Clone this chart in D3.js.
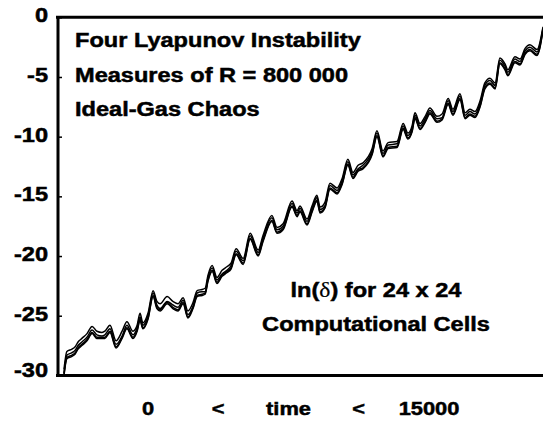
<!DOCTYPE html>
<html>
<head>
<meta charset="utf-8">
<script src="https://cdn.jsdelivr.net/npm/d3@7"></script>
<style>
    body { margin: 0; background: #fff; }
    text { font-family: "Liberation Sans", Arial, sans-serif; font-weight: bold; fill: #000;
           stroke: #000; stroke-width: 0.5px; }
</style>
</head>
<body>
<script>
// time steps shared by the four runs
var times = [0, 90, 250, 350, 440, 560, 720, 880, 1030, 1190,
    1280, 1440, 1630, 1820, 1970, 2160, 2290, 2380, 2470, 2630,
    2790, 2910, 3010, 3230, 3410, 3570, 3730, 3880, 4040, 4170,
    4320, 4420, 4510, 4640, 4790, 4950, 5100, 5230, 5390, 5610,
    5830, 6080, 6230, 6510, 6670, 6860, 7140, 7300, 7390, 7610,
    7770, 7920, 8020, 8170, 8330, 8550, 8710, 8890, 9050, 9210,
    9360, 9650, 9800, 9990, 10150, 10430, 10620, 10770, 10900, 10990,
    11150, 11310, 11460, 11680, 11840, 12030, 12180, 12400, 12560, 12710,
    12870, 13030, 13180, 13340, 13500, 13650, 13810, 13900, 14120, 14280,
    14440, 14590, 14810, 15000];

// ln(delta) for each of the four measures
var seriesA = [-29.5, -28.0, -27.8, -27.6, -27.2, -26.9, -26.5, -25.9, -26.3, -26.4,
    -26.3, -25.8, -27.1, -26.3, -25.5, -26.3, -25.8, -24.8, -25.6, -24.8,
    -22.9, -23.8, -24.0, -23.4, -23.8, -24.0, -23.5, -24.6, -23.9, -22.9,
    -22.8, -22.7, -21.6, -20.8, -21.8, -21.2, -20.9, -20.6, -19.4, -20.2,
    -18.1, -19.5, -18.3, -16.6, -17.6, -17.3, -15.4, -16.2, -15.8, -16.9,
    -15.8, -14.9, -15.9, -15.5, -13.9, -14.3, -13.5, -11.9, -13.0, -12.4,
    -12.2, -11.0, -9.5, -11.2, -10.5, -10.4, -8.9, -9.7, -9.1, -8.0,
    -8.9, -8.3, -7.6, -8.3, -8.1, -6.8, -7.7, -6.4, -8.0, -7.7,
    -7.9, -7.0, -5.5, -5.1, -5.5, -3.4, -3.9, -4.4, -3.3, -3.5,
    -2.6, -2.3, -2.7, -0.8];
var seriesB = [-29.8, -28.3, -28.1, -27.9, -27.5, -27.2, -26.8, -26.2, -26.6, -26.7,
    -26.6, -26.1, -27.4, -26.7, -25.8, -26.6, -26.0, -25.1, -25.8, -25.0,
    -23.1, -24.1, -24.4, -23.8, -24.1, -24.3, -23.7, -24.9, -24.2, -23.1,
    -23.0, -23.0, -21.8, -21.0, -22.0, -21.5, -21.2, -20.8, -19.6, -20.4,
    -18.3, -19.7, -18.5, -16.8, -17.8, -17.5, -15.6, -16.4, -16.0, -17.1,
    -16.0, -15.1, -16.1, -15.8, -14.1, -14.5, -13.7, -12.1, -13.2, -12.7,
    -12.4, -11.2, -9.7, -11.4, -10.7, -10.6, -9.1, -9.9, -9.3, -8.2,
    -9.1, -8.5, -7.8, -8.5, -8.4, -7.0, -7.9, -6.6, -8.2, -7.9,
    -8.1, -7.2, -5.7, -5.3, -5.7, -3.6, -4.1, -4.6, -3.5, -3.7,
    -2.8, -2.5, -2.9, -0.9];
var seriesC = [-29.9, -28.5, -28.3, -28.1, -27.7, -27.4, -27.0, -26.4, -26.8, -26.8,
    -26.8, -26.3, -27.6, -26.8, -26.0, -26.8, -26.2, -25.3, -26.0, -25.2,
    -23.3, -24.3, -24.5, -23.9, -24.3, -24.5, -23.9, -25.1, -24.3, -23.3,
    -23.2, -23.1, -22.0, -21.2, -22.2, -21.6, -21.3, -21.0, -19.8, -20.6,
    -18.5, -19.9, -18.7, -17.0, -18.0, -17.7, -15.8, -16.6, -16.2, -17.3,
    -16.2, -15.3, -16.3, -15.9, -14.3, -14.7, -13.9, -12.3, -13.4, -12.8,
    -12.6, -11.4, -9.9, -11.6, -10.9, -10.8, -9.3, -10.1, -9.5, -8.4,
    -9.3, -8.7, -8.0, -8.7, -8.5, -7.2, -8.1, -6.8, -8.4, -8.1,
    -8.3, -7.4, -5.9, -5.5, -5.9, -3.8, -4.3, -4.8, -3.7, -3.9,
    -3.0, -2.7, -3.1, -1.0];
var seriesD = [-30.0, -28.6, -28.4, -28.2, -27.8, -27.5, -27.1, -26.5, -26.9, -26.9,
    -26.9, -26.4, -27.7, -26.9, -26.1, -26.9, -26.3, -25.4, -26.1, -25.3,
    -23.4, -24.4, -24.6, -24.0, -24.4, -24.6, -24.0, -25.2, -24.4, -23.4,
    -23.3, -23.2, -22.1, -21.3, -22.3, -21.7, -21.4, -21.1, -19.9, -20.7,
    -18.6, -20.0, -18.8, -17.1, -18.1, -17.8, -15.9, -16.7, -16.3, -17.4,
    -16.3, -15.4, -16.4, -16.0, -14.4, -14.8, -14.0, -12.4, -13.5, -12.9,
    -12.7, -11.5, -10.0, -11.7, -11.0, -10.9, -9.4, -10.2, -9.6, -8.5,
    -9.4, -8.8, -8.1, -8.8, -8.6, -7.3, -8.2, -6.9, -8.5, -8.2,
    -8.4, -7.5, -6.0, -5.6, -6.0, -3.9, -4.4, -4.9, -3.8, -4.0,
    -3.1, -2.8, -3.2, -1.1];

var yTicks = [0, -5, -10, -15, -20, -25, -30];
var titleLines = ["Four Lyapunov Instability", "Measures of R = 800 000", "Ideal-Gas Chaos"];
var noteLines = ["ln(\u03b4) for 24 x 24", "Computational Cells"];
var xLabelParts = ["0", "<", "time", "<", "15000"];

var w = 543,
    h = 421,
    fontSize = 20.5,
    stretch = 1.15,
    frameLeft = 57.5,
    frameTop = 17.3,
    frameBottom = 375.4;

var svg = d3.select("body").append("svg").attr("width", w).attr("height", h);

var xScale = d3.scaleLinear().domain([0, 15000]).range([64, 543]);
var yScale = d3.scaleLinear().domain([-30, 0]).range([frameBottom, frameTop]);

// frame: left, top and bottom only
svg.append("line").attr("x1", frameLeft - 1.5).attr("x2", w).attr("y1", frameTop).attr("y2", frameTop)
    .attr("stroke", "#000").attr("stroke-width", 3);
svg.append("line").attr("x1", frameLeft - 1.5).attr("x2", w).attr("y1", frameBottom).attr("y2", frameBottom)
    .attr("stroke", "#000").attr("stroke-width", 3);

var yAxisGen = d3.axisLeft(yScale).tickValues(yTicks).tickSize(-4.5).tickSizeOuter(0).tickFormat("");
var yAxis = svg.append("g").attr("transform", "translate(" + frameLeft + ",0)").call(yAxisGen);
yAxis.select(".domain").attr("stroke-width", 3);
yAxis.selectAll(".tick line").attr("stroke-width", 1.5);

svg.selectAll("text.ytick").data(yTicks).enter().append("text")
    .attr("class", "ytick")
    .attr("text-anchor", "end")
    .attr("font-size", fontSize)
    .attr("transform", function (d) {
        return "translate(48," + Math.min(yScale(d) + 5, 377) + ") scale(" + stretch + ",1)";
    })
    .text(function (d) { return d; });

// the four runs
var lineFn = d3.line()
    .x(function (d, i) { return xScale(times[i]); })
    .y(function (d) { return yScale(d); })
    .curve(d3.curveMonotoneX);

svg.selectAll("path.run").data([seriesA, seriesB, seriesC, seriesD]).enter().append("path")
    .attr("class", "run")
    .attr("d", lineFn)
    .attr("fill", "none")
    .attr("stroke", "#000")
    .attr("stroke-width", 1.5);

// annotations
svg.selectAll("text.title").data(titleLines).enter().append("text")
    .attr("class", "title")
    .attr("font-size", fontSize)
    .attr("transform", function (d, i) {
        return "translate(75," + (47 + i * 34.5) + ") scale(" + stretch + ",1)";
    })
    .text(function (d) { return d; });

var note = svg.selectAll("text.note").data(noteLines).enter().append("text")
    .attr("class", "note")
    .attr("font-size", fontSize)
    .attr("text-anchor", "middle")
    .attr("transform", function (d, i) {
        return "translate(376," + (297 + i * 34) + ") scale(" + stretch + ",1)";
    });
note.each(function (d) {
    var t = d3.select(this);
    d.split(/(\u03b4)/).forEach(function (part) {
        var sp = t.append("tspan").text(part);
        if (part === "\u03b4") sp.attr("font-weight", "normal").style("font-family", "'Liberation Serif', serif").style("stroke-width", "0.2px");
    });
});

var xLabelScale = d3.scalePoint().domain(d3.range(xLabelParts.length)).range([148, 429]);
svg.selectAll("text.xlabel").data(xLabelParts).enter().append("text")
    .attr("class", "xlabel")
    .attr("font-size", 19)
    .attr("text-anchor", "middle")
    .attr("transform", function (d, i) {
        return "translate(" + xLabelScale(i) + ",415) scale(" + stretch + ",1)";
    })
    .text(function (d) { return d; });
</script>
</body>
</html>
